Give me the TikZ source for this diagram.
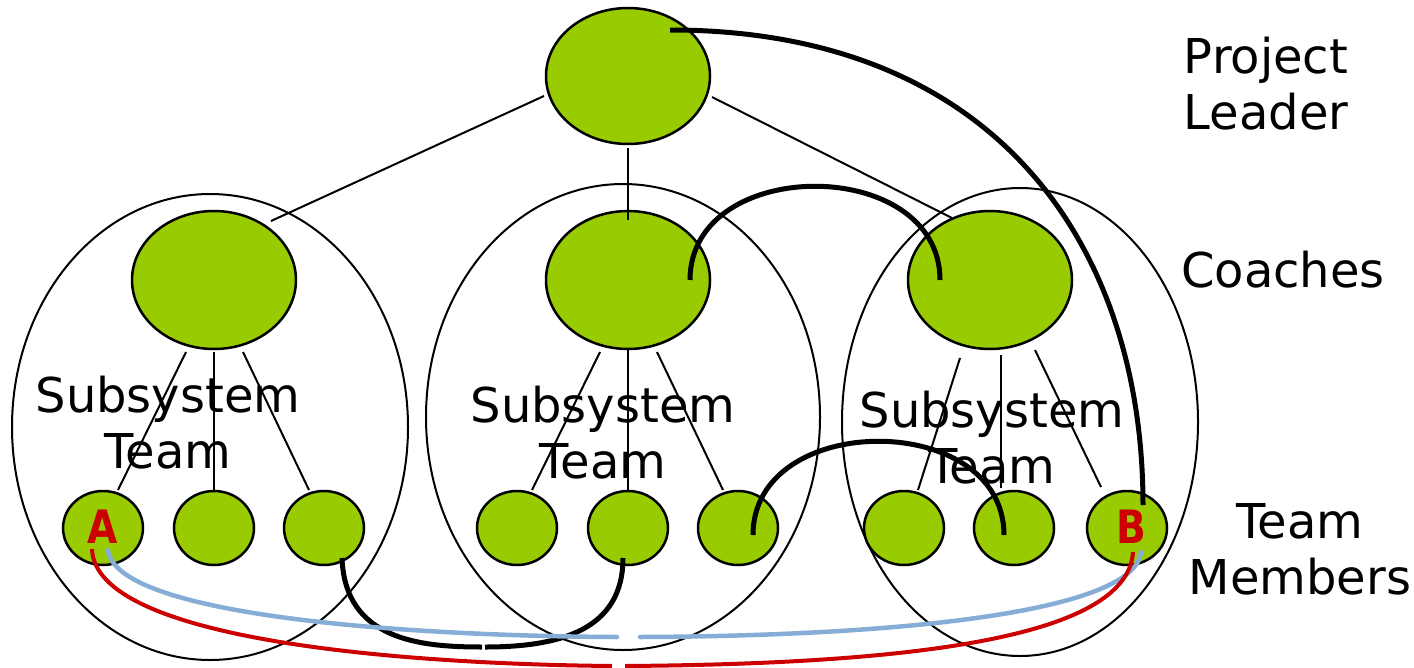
\documentclass[tikz,border=0pt]{standalone}
\usepackage{fontspec}
\setmainfont{DejaVu Sans}
\definecolor{lgreen}{HTML}{99CC00}
\definecolor{lblue}{HTML}{85ADD6}
\definecolor{dred}{HTML}{CC0000}
\begin{document}
\begin{tikzpicture}[x=1pt,y=-1pt,
  blob/.style={draw=black,line width=2.5pt,fill=lgreen},
  team/.style={draw=black,line width=2pt},
  thin/.style={line width=2pt},
  link/.style={line width=5pt},
  lbl/.style={font=\fontsize{48}{56}\selectfont,align=center,inner sep=0pt},
  ab/.style={font=\fontsize{46}{50}\selectfont\bfseries,text=dred,inner sep=0pt}]
\useasboundingbox (0,0) rectangle (1414,667);
% team ellipses
\draw[team] (210,427) ellipse [x radius=198,y radius=233];
\draw[team] (623,417) ellipse [x radius=197,y radius=233];
\draw[team] (1020,422) ellipse [x radius=178,y radius=234];
% persons
\draw[blob] (628,76) ellipse [x radius=82,y radius=68];
\draw[blob] (214,280) ellipse [x radius=82,y radius=69];
\draw[blob] (628,280) ellipse [x radius=82,y radius=69];
\draw[blob] (990,280) ellipse [x radius=82,y radius=69];
\foreach \x in {103,214,324,517,628,738,904,1014,1127}
  \draw[blob] (\x,528) ellipse [x radius=40,y radius=37];
% coordinates for connectors
\coordinate (pl) at (544,96); \coordinate (lc) at (271,221);
\coordinate (pm) at (628,148); \coordinate (mc) at (628,220);
\coordinate (pr) at (712,97); \coordinate (rc) at (952,218);
\draw[thin] (pl) -- (lc);
\draw[thin] (pm) -- (mc);
\draw[thin] (pr) -- (rc);
% coach to members
\draw[thin] (186,352) -- (118,490);
\draw[thin] (214,352) -- (214,490);
\draw[thin] (243,352) -- (309,490);
\draw[thin] (600,352) -- (532,490);
\draw[thin] (628,350) -- (628,490);
\draw[thin] (657,352) -- (723,490);
\draw[thin] (960,358) -- (918,490);
\draw[thin] (1001,355) -- (1001,488);
\draw[thin] (1035,350) -- (1101,487);
% labels
\node[lbl] (tpl) at (1266,84) {Project\\Leader};
\node[lbl] (tco) at (1283,270) {Coaches};
\node[lbl] (ttm) at (1300,549) {Team\\Members};
\node[lbl] (s1) at (168,423) {Subsystem\\Team};
\node[lbl] (s2) at (603,433) {Subsystem\\Team};
\node[lbl] (s3) at (992,438) {Subsystem\\Team};
\node[ab] (A) at (103,527) {\scalebox{0.85}[1]{A}};
\node[ab] (B) at (1131,527) {\scalebox{0.85}[1]{B}};
% black links
\draw[link] (670,30) .. controls (1000,30) and (1143,250) .. (1143,505);
\draw[link] (690,280) .. controls (690,155) and (940,155) .. (940,280);
\draw[link] (753,535) .. controls (753,410) and (1004,410) .. (1004,535);
\draw[link] (342,558) .. controls (345,640) and (420,647) .. (482,647);
\draw[link] (485,647) .. controls (560,647) and (623,630) .. (623,558);
% blue and red
\draw[lblue,line width=4.5pt,line cap=round] (108,550) .. controls (115,615) and (400,636) .. (617,637);
\draw[lblue,line width=4.5pt,line cap=round] (640,637) .. controls (900,636) and (1135,612) .. (1141,552);
\draw[dred,line width=4pt] (92,549) .. controls (95,640) and (400,664) .. (612,666);
\draw[dred,line width=4pt] (625,666) .. controls (900,664) and (1128,640) .. (1133,552);
\end{tikzpicture}
\end{document}
